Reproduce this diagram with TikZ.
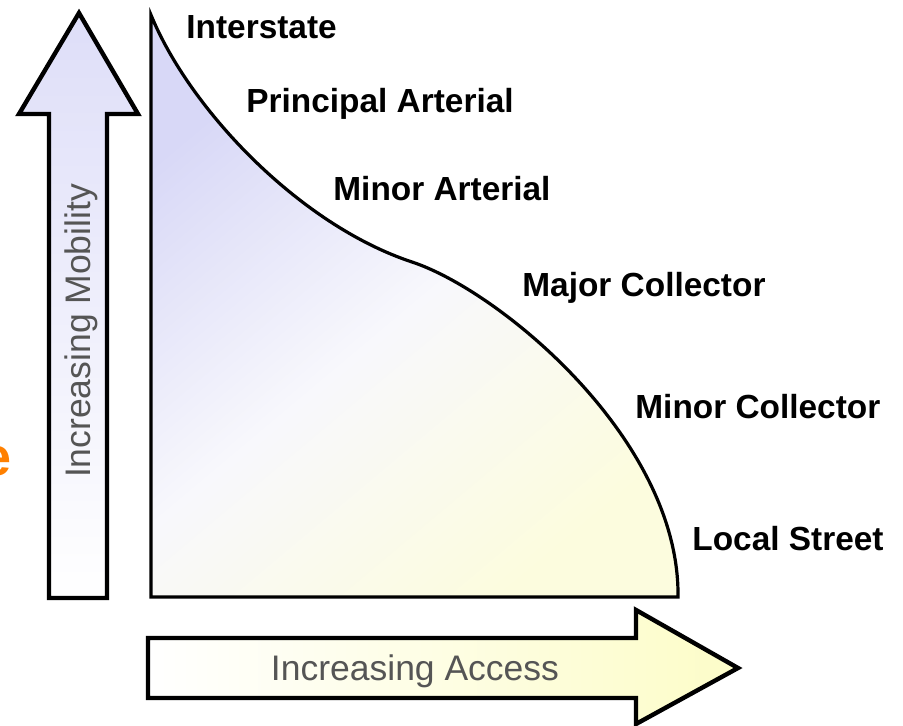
\documentclass[tikz,border=0pt]{standalone}
\usepackage{fontspec}
\setmainfont{Liberation Sans}
\definecolor{lavender}{RGB}{216,216,247}
\definecolor{paleblue}{RGB}{248,248,252}
\definecolor{cream}{RGB}{252,252,222}
\definecolor{labelgray}{RGB}{85,85,85}
\definecolor{hintorange}{RGB}{255,128,0}
\tikzset{
    road/.style={font=\fontsize{16.7}{18}\selectfont\bfseries, anchor=base west, inner sep=0pt},
    axislabel/.style={font=\fontsize{17.75}{20}\selectfont, text=labelgray, anchor=base, inner sep=0pt},
    blockarrow/.style={draw=black, line width=2.2pt, line join=miter}
}
\begin{document}
\begin{tikzpicture}[x=0.5pt, y=-0.5pt]
    \useasboundingbox (0,0) rectangle (903,726);
    \fill[white] (0,0) rectangle (903,726);

    % area under the curve
    \shade[top color=lavender, bottom color=cream, middle color=paleblue, shading angle=40]
        (151,15) .. controls (190,110) and (300,225) .. (412,262)
        .. controls (500,291) and (680,440) .. (678,597) -- (151,597) -- cycle;
    \draw[line width=1.6pt, line join=miter]
        (151,15) .. controls (190,110) and (300,225) .. (412,262)
        .. controls (500,291) and (680,440) .. (678,597) -- (151,597) -- cycle;

    % mobility arrow
    \shade[top color=lavender!85, bottom color=white]
        (79,13) -- (138,114) -- (107,114) -- (107,598) -- (49,598) -- (49,114) -- (19,114) -- cycle;
    \draw[blockarrow]
        (79,13) -- (138,114) -- (107,114) -- (107,598) -- (49,598) -- (49,114) -- (19,114) -- cycle;
    \node[axislabel, rotate=90] (M) at (90,331) {Increasing Mobility};

    % access arrow
    \shade[left color=white, right color=cream!90!yellow]
        (148,638) -- (636,638) -- (636,610) -- (738,668) -- (636,724) -- (636,698) -- (148,698) -- cycle;
    \draw[blockarrow]
        (148,638) -- (636,638) -- (636,610) -- (738,668) -- (636,724) -- (636,698) -- (148,698) -- cycle;
    \node[axislabel] (A) at (415,680) {Increasing Access};

    % road classes
    \node[road] (IS) at (186,39) {Interstate};
    \node[road] (PA) at (246,113) {Principal Arterial};
    \node[road] (MA) at (333,201) {Minor Arterial};
    \node[road] (JC) at (522,297) {Major Collector};
    \node[road] (NC) at (635,418) {Minor Collector};
    \node[road] (LS) at (692,550) {Local Street};

    \node[font=\fontsize{27}{30}\selectfont\bfseries, text=hintorange, anchor=base east, inner sep=0pt] (E) at (12,475) {e};
\end{tikzpicture}
\end{document}
